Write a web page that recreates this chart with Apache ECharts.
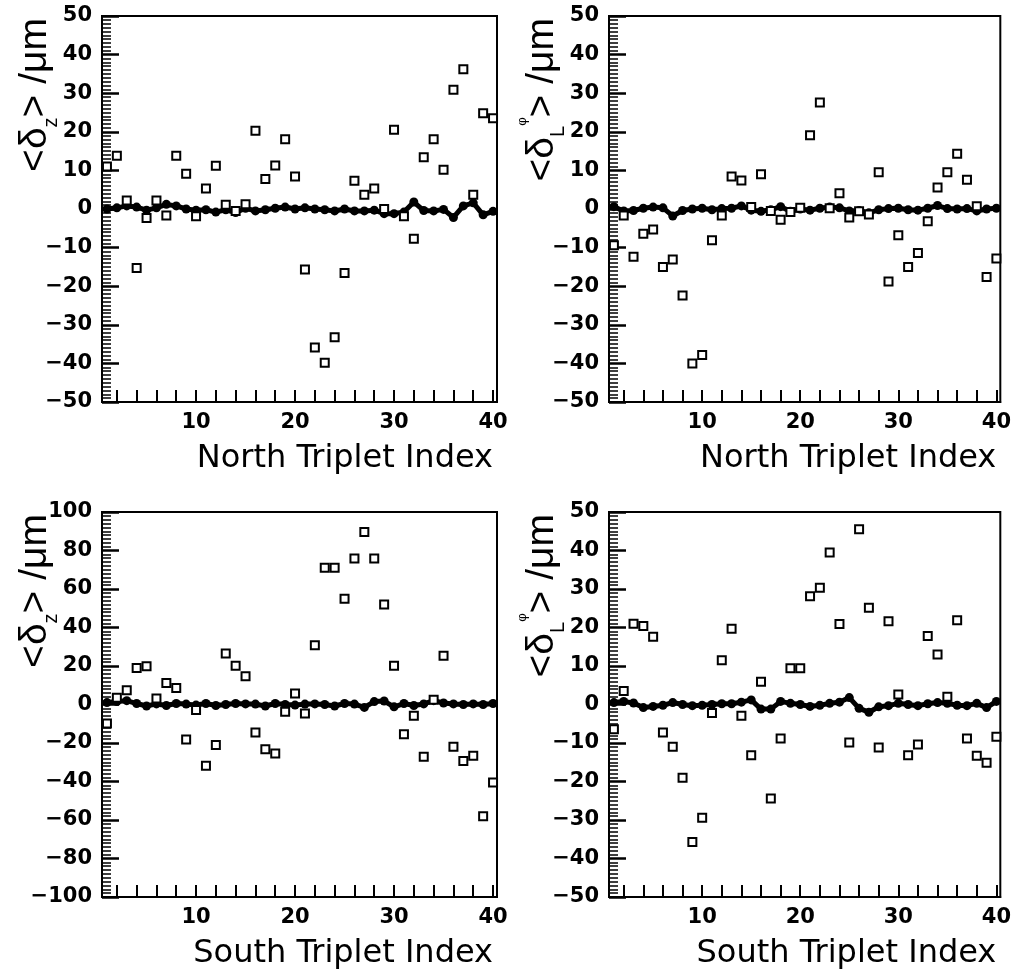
<!DOCTYPE html>
<html>
<head>
<meta charset="utf-8">
<script src="https://cdn.jsdelivr.net/npm/echarts@6/dist/echarts.min.js"></script>
<style>
html,body{margin:0;padding:0;background:#fff;}
#chart{width:1014px;height:976px;}
</style>
</head>
<body>
<div id="chart"></div>
<script>
// ---------- data ----------
const tripletIndex = [1,2,3,4,5,6,7,8,9,10,11,12,13,14,15,16,17,18,19,20,21,22,23,24,25,26,27,28,29,30,31,32,33,34,35,36,37,38,39,40];
const xMajorTicks = [10,20,30,40];
const xAllTicks = [2,4,6,8,10,12,14,16,18,20,22,24,26,28,30,32,34,36,38,40];

// (a) North, <delta_z>
const northZOpen = [11,13.8,2.2,-15.3,-2.3,2.2,-1.7,13.8,9.1,-1.9,5.3,11.2,1.1,-0.5,1.2,20.3,7.8,11.3,18.1,8.4,-15.7,-35.9,-39.8,-33.2,-16.6,7.3,3.7,5.3,0.0,20.5,-1.9,-7.7,13.4,18.1,10.2,30.9,36.2,3.7,24.8,23.5];
const northZFilled = [0.0,0.3,0.8,0.5,-0.3,0.3,1.2,0.8,0.0,-0.3,-0.2,-0.8,-0.2,-0.9,0.2,-0.5,-0.2,0.2,0.5,0.0,0.3,0.0,-0.2,-0.5,0.0,-0.5,-0.5,-0.3,-1.2,-1.2,-0.8,1.8,-0.4,-0.5,-0.1,-2.2,0.8,1.6,-1.5,-0.6];
// (b) North, <delta_Lphi>
const northLOpen = [-9.4,-1.7,-12.4,-6.4,-5.3,-15.0,-13.1,-22.4,-40.0,-37.8,-8.1,-1.7,8.4,7.4,0.5,9.0,-0.5,-2.8,-0.8,0.3,19.1,27.6,0.2,4.1,-2.2,-0.6,-1.4,9.5,-18.8,-6.8,-15.0,-11.4,-3.2,5.6,9.5,14.3,7.6,0.7,-17.6,-12.8];
const northLFilled = [0.6,-0.5,-0.4,0.2,0.5,0.3,-1.8,-0.4,0.0,0.2,-0.2,0.1,0.2,0.8,-0.3,-0.6,-0.2,0.6,-0.6,0.0,-0.3,0.2,0.5,0.3,-0.5,-0.4,-1.0,-0.2,0.1,0.2,-0.2,-0.3,0.2,0.9,0.1,0.0,0.1,-0.5,0.0,0.2];
// (c) South, <delta_z>
const southZOpen = [-9.9,3.5,7.4,19.0,19.9,3.1,11.2,8.6,-18.2,-2.9,-31.8,-21.1,26.5,20.1,14.7,-14.5,-23.2,-25.4,-3.8,5.7,-4.7,30.8,71.1,71.1,55.0,75.8,89.6,75.8,51.9,20.1,-15.4,-5.9,-27.2,2.5,25.3,-22.0,-29.4,-26.6,-58.0,-40.5];
const southZFilled = [1.0,1.5,2.0,0.5,-0.8,0.3,-0.5,0.5,0.2,-0.3,0.5,-0.5,0.0,0.5,0.3,0.2,-0.8,0.5,0.0,-0.3,0.2,0.3,0.0,-0.8,0.5,0.2,-1.5,1.5,1.8,-1.2,0.5,-0.5,0.3,2.0,0.8,0.3,0.0,0.3,0.0,0.5];
// (d) South, <delta_Lphi>
const southLOpen = [-6.4,3.5,21.0,20.4,17.6,-7.3,-11.0,-19.0,-35.7,-29.4,-2.2,11.5,19.7,-2.9,-13.2,5.9,-24.4,-8.8,9.4,9.4,28.1,30.3,39.5,20.9,-9.9,45.5,25.1,-11.2,21.6,2.6,-13.2,-10.4,17.8,13.0,2.0,21.9,-8.8,-13.3,-15.1,-8.4];
const southLFilled = [0.5,0.8,0.4,-0.8,-0.5,-0.2,0.5,0.0,-0.3,-0.2,0.0,0.2,0.2,0.6,1.2,-1.2,-1.2,0.8,0.3,0.0,-0.5,-0.2,0.3,0.6,1.8,-1.0,-2.0,-0.6,-0.3,0.3,0.0,-0.3,0.2,0.5,0.3,-0.2,-0.3,0.3,-0.8,0.8];

const xTitles = ['North Triplet Index','North Triplet Index','South Triplet Index','South Triplet Index'];

// ---------- layout ----------
const panels = [
  {left:102, top:16, width:395, height:386, ymin:-50, ymax:50, yint:10, open:northZOpen, filled:northZFilled, sub:'z'},
  {left:609, top:16, width:394, height:386, ymin:-50, ymax:50, yint:10, open:northLOpen, filled:northLFilled, sub:'L'},
  {left:102, top:512, width:395, height:385, ymin:-100, ymax:100, yint:20, open:southZOpen, filled:southZFilled, sub:'z'},
  {left:609, top:512, width:394, height:385, ymin:-50, ymax:50, yint:10, open:southLOpen, filled:southLFilled, sub:'L'}
];

const FONT = "'Liberation Sans', Arial, Helvetica, sans-serif";
const TICKFONT = "'DejaVu Sans', 'Liberation Sans', sans-serif";
const minusFmt = v => String(v).replace('-', '\u2212');

const grid = [], xAxis = [], yAxis = [], series = [];
panels.forEach((p, g) => {
  grid.push({left:p.left, top:p.top, width:p.width, height:p.height, show:true, borderColor:'#000', borderWidth:2});
  xAxis.push({
    type:'value', gridIndex:g, min:0.5, max:40.4,
    name:xTitles[g], nameLocation:'end', nameGap:-4, nameMoveOverlap:false,
    nameTextStyle:{fontFamily:TICKFONT, fontSize:32, color:'#000', align:'right', verticalAlign:'top', lineHeight:34, padding:[40,0,0,0]},
    axisLine:{show:true, onZero:false, lineStyle:{color:'#000', width:2}},
    axisTick:{show:true, inside:true, length:12, lineStyle:{color:'#000', width:2}, customValues:xAllTicks},
    axisLabel:{show:true, customValues:xMajorTicks, margin:10, color:'#000', fontSize:21, fontWeight:'bold', fontFamily:TICKFONT},
    splitLine:{show:false}
  });
  const subText = p.sub === 'z' ? '{s|z}' : '{s|L}{ss|φ}';
  yAxis.push({
    type:'value', gridIndex:g, min:p.ymin, max:p.ymax, interval:p.yint,
    name:'{a|<δ}' + subText + '{a|> /μm}', nameLocation:'end', nameRotate:90, nameGap:-2, nameMoveOverlap:false,
    nameTextStyle:{
      align:'right', verticalAlign:'bottom', padding:[0,0,41,0],
      rich:{
        a:{fontSize:39, fontFamily:FONT, color:'#000', lineHeight:52, verticalAlign:'middle'},
        s:{fontSize:20, fontFamily:FONT, color:'#000', lineHeight:20, verticalAlign:'bottom'},
        ss:{fontSize:13, fontFamily:FONT, color:'#000', lineHeight:30, verticalAlign:'top'}
      }
    },
    axisLine:{show:true, lineStyle:{color:'#000', width:2}},
    axisTick:{show:true, inside:true, length:17, lineStyle:{color:'#000', width:2.5}},
    minorTick:{show:true, splitNumber:10, length:9, lineStyle:{color:'#000', width:1.5}},
    axisLabel:{show:true, margin:10, color:'#000', fontSize:21, fontWeight:'bold', fontFamily:TICKFONT, formatter:minusFmt},
    splitLine:{show:false}, minorSplitLine:{show:false}
  });

  series.push({
    type:'line', xAxisIndex:g, yAxisIndex:g, z:2,
    symbol:'circle', symbolSize:9, showSymbol:true,
    lineStyle:{color:'#000', width:5},
    itemStyle:{color:'#000'},
    data: tripletIndex.map((x, i) => [x, p.filled[i]])
  });
  series.push({
    type:'scatter', xAxisIndex:g, yAxisIndex:g, z:3,
    symbol:'rect', symbolSize:8,
    itemStyle:{color:'#fff', borderColor:'#000', borderWidth:2, opacity:1},
    data: tripletIndex.map((x, i) => [x, p.open[i]])
  });
});

const chart = echarts.init(document.getElementById('chart'), null, {renderer:'canvas'});
chart.setOption({
  animation:false,
  backgroundColor:'#fff',
  grid, xAxis, yAxis, series
});
</script>
</body>
</html>
